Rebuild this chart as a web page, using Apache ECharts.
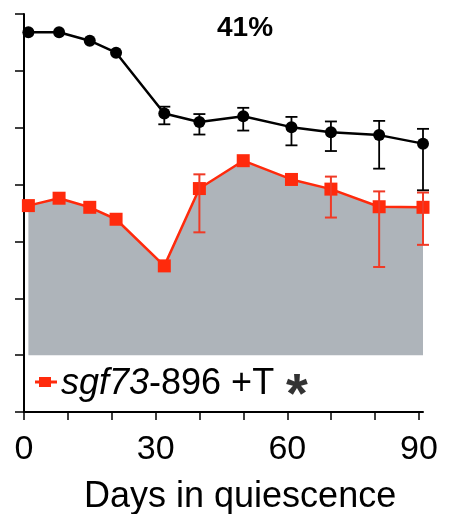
<!DOCTYPE html>
<html>
<head>
<meta charset="utf-8">
<style>html,body{margin:0;padding:0;background:#fff}#c{width:452px;height:514px}</style>
<script src="https://cdn.jsdelivr.net/npm/echarts@6/dist/echarts.min.js"></script>
</head>
<body>
<div id="c"></div>
<script>
// ---- data ----
var days = [1, 8, 15, 21, 32, 40, 50, 61, 70, 81, 91];
var wtValues = [6.68, 6.68, 6.53, 6.32, 5.25, 5.10, 5.20, 5.01, 4.92, 4.87, 4.72];
var wtErrUp = [0, 0, 0, 0, 0.12, 0.14, 0.15, 0.18, 0.19, 0.25, 0.26];
var wtErrDown = [0, 0, 0, 0, 0.19, 0.22, 0.25, 0.32, 0.33, 0.59, 0.82];
var mutValues = [3.63, 3.76, 3.60, 3.39, 2.57, 3.93, 4.42, 4.09, 3.92, 3.61, 3.60];
var mutErrUp = [0, 0, 0, 0, 0, 0.25, 0, 0, 0.22, 0.27, 0.26];
var mutErrDown = [0, 0, 0, 0, 0, 0.77, 0, 0, 0.50, 1.06, 0.66];
var xTickLabels = [0, 30, 60, 90];
var titleText = '41%';
var xAxisName = 'Days in quiescence';
var legendItalic = 'sgf73';
var legendRest = '-896 +T';
var legendStar = '*';

var RED = '#ff2a0c';
var FONT = 'Liberation Sans, Arial, Helvetica, sans-serif';

function pairs(xs, ys) { return xs.map(function (x, i) { return [x, ys[i]]; }); }
function errData(xs, ys, up, down) {
  var out = [];
  xs.forEach(function (x, i) {
    if (up[i] > 0 || down[i] > 0) out.push([x, ys[i] - down[i], ys[i] + up[i]]);
  });
  return out;
}
function errRender(color, width, cap) {
  return function (params, api) {
    var x = api.value(0);
    var lo = api.coord([x, api.value(1)]);
    var hi = api.coord([x, api.value(2)]);
    var s = { stroke: color, lineWidth: width };
    return {
      type: 'group',
      children: [
        { type: 'line', shape: { x1: lo[0], y1: lo[1], x2: hi[0], y2: hi[1] }, style: s },
        { type: 'line', shape: { x1: lo[0] - cap, y1: lo[1], x2: lo[0] + cap, y2: lo[1] }, style: s },
        { type: 'line', shape: { x1: hi[0] - cap, y1: hi[1], x2: hi[0] + cap, y2: hi[1] }, style: s }
      ]
    };
  };
}

var chart = echarts.init(document.getElementById('c'), null, { renderer: 'canvas' });
chart.setOption({
  animation: false,
  backgroundColor: '#fff',
  grid: [
    { left: 24, right: 29, top: 14, bottom: 102 },
    { left: 24, right: 33, top: 14, bottom: 102 }
  ],
  xAxis: [
    {
      type: 'value', gridIndex: 0, min: 0, max: 91,
      axisLine: { show: true, lineStyle: { color: '#000', width: 2 } },
      axisTick: { show: false }, axisLabel: { show: false }, splitLine: { show: false }
    },
    {
      type: 'value', gridIndex: 1, min: 0, max: 90, interval: 10,
      axisLine: { show: false },
      axisTick: { show: true, length: 8, lineStyle: { color: '#000', width: 1.5 } },
      axisLabel: {
        show: true, margin: 21, color: '#000', fontSize: 34, fontFamily: FONT,
        formatter: function (v) { return xTickLabels.indexOf(v) >= 0 ? String(v) : ''; }
      },
      splitLine: { show: false }
    }
  ],
  yAxis: [
    {
      type: 'value', gridIndex: 0, min: 0, max: 7, interval: 1,
      axisLine: { show: true, lineStyle: { color: '#000', width: 2 } },
      axisTick: { show: true, length: 9, lineStyle: { color: '#000', width: 1.5 } },
      axisLabel: { show: false }, splitLine: { show: false }
    },
    { type: 'value', gridIndex: 1, min: 0, max: 7, show: false }
  ],
  series: [
    {
      type: 'line', xAxisIndex: 0, yAxisIndex: 0, z: 2,
      data: pairs(days, mutValues),
      symbol: 'rect', symbolSize: 13,
      itemStyle: { color: RED },
      lineStyle: { color: RED, width: 2.5 },
      areaStyle: { origin: 1, color: '#aeb4ba', opacity: 1 }
    },
    {
      type: 'custom', xAxisIndex: 0, yAxisIndex: 0, z: 3,
      data: errData(days, mutValues, mutErrUp, mutErrDown),
      renderItem: errRender('#f03a26', 2, 6)
    },
    {
      type: 'line', xAxisIndex: 0, yAxisIndex: 0, z: 4,
      data: pairs(days, wtValues),
      symbol: 'circle', symbolSize: 12,
      itemStyle: { color: '#000' },
      lineStyle: { color: '#000', width: 2.5 }
    },
    {
      type: 'custom', xAxisIndex: 0, yAxisIndex: 0, z: 5,
      data: errData(days, wtValues, wtErrUp, wtErrDown),
      renderItem: errRender('#000', 1.8, 6)
    }
  ],
  graphic: [
    {
      type: 'text', left: 217, top: 14,
      style: { text: titleText, fontSize: 28, fontWeight: 'bold', fontFamily: FONT, fill: '#000' }
    },
    {
      type: 'text', left: 84, top: 479,
      style: { text: xAxisName, fontSize: 36, fontFamily: FONT, fill: '#000' }
    },
    { type: 'line', shape: { x1: 35, y1: 382, x2: 57, y2: 382 }, style: { stroke: RED, lineWidth: 3 } },
    { type: 'rect', shape: { x: 39, y: 377, width: 12, height: 10 }, style: { fill: RED } },
    {
      type: 'text', left: 61, top: 366,
      style: {
        text: '{i|' + legendItalic + '}{r|' + legendRest + '}',
        rich: {
          i: { fontSize: 36, fontStyle: 'italic', fontFamily: FONT, fill: '#000' },
          r: { fontSize: 36, fontFamily: FONT, fill: '#000' }
        }
      }
    },
    {
      type: 'text', left: 286, top: 369,
      style: { text: legendStar, fontSize: 56, fontWeight: 'bold', fontFamily: FONT, fill: '#333' }
    }
  ]
});
</script>
</body>
</html>
